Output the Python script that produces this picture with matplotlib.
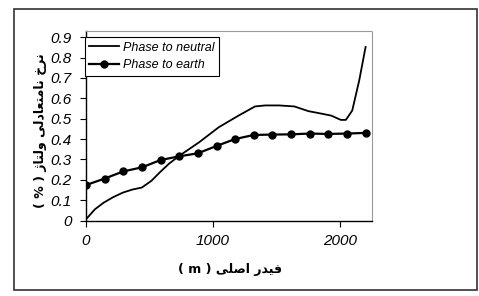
import matplotlib
matplotlib.use('Agg')
import matplotlib.pyplot as plt
from matplotlib.patches import Rectangle

# data
earth_x = [0, 147, 293, 440, 587, 733, 880, 1027, 1173, 1320, 1467, 1613, 1760, 1907, 2053, 2200]
earth_y = [0.174, 0.206, 0.241, 0.261, 0.297, 0.315, 0.330, 0.366, 0.400, 0.420,
           0.422, 0.423, 0.427, 0.425, 0.427, 0.430]

neutral_x = [0, 70, 140, 215, 290, 365, 440, 515, 580, 655, 735, 890, 1045, 1200, 1330,
             1410, 1520, 1640, 1750, 1850, 1930, 2005, 2045, 2095, 2150, 2200]
neutral_y = [0.006, 0.055, 0.088, 0.115, 0.137, 0.152, 0.162, 0.195, 0.236, 0.280, 0.318,
             0.384, 0.458, 0.515, 0.560, 0.565, 0.565, 0.560, 0.537, 0.525, 0.515,
             0.494, 0.494, 0.540, 0.688, 0.852]

y_ticks = [0, 0.1, 0.2, 0.3, 0.4, 0.5, 0.6, 0.7, 0.8, 0.9]
x_ticks = [0, 1000, 2000]
ytick_labels = ['0', '0.1', '0.2', '0.3', '0.4', '0.5', '0.6', '0.7', '0.8', '0.9']

ylabel_fa = 'نرخ نامتعادلی ولتاژ'
xlabel_fa = 'فیدر اصلی'

# minimal Persian shaping (matplotlib has no text shaping for Arabic script)
FORMS = {
    'ا': ('\uFE8D', '\uFE8E', None, None),
    'د': ('\uFEA9', '\uFEAA', None, None),
    'ر': ('\uFEAD', '\uFEAE', None, None),
    'ژ': ('\u0698', '\u0698', None, None),
    'و': ('\uFEED', '\uFEEE', None, None),
    'ت': ('\uFE95', '\uFE96', '\uFE97', '\uFE98'),
    'خ': ('\uFEA5', '\uFEA6', '\uFEA7', '\uFEA8'),
    'ص': ('\uFEB9', '\uFEBA', '\uFEBB', '\uFEBC'),
    'ع': ('\uFEC9', '\uFECA', '\uFECB', '\uFECC'),
    'ف': ('\uFED1', '\uFED2', '\uFED3', '\uFED4'),
    'ل': ('\uFEDD', '\uFEDE', '\uFEDF', '\uFEE0'),
    'م': ('\uFEE1', '\uFEE2', '\uFEE3', '\uFEE4'),
    'ن': ('\uFEE5', '\uFEE6', '\uFEE7', '\uFEE8'),
    'ه': ('\uFEE9', '\uFEEA', '\uFEEB', '\uFEEC'),
    'ی': ('\uFEEF', '\uFEF0', '\uFEF3', '\uFEF4'),
}


def shape(text):
    out = []
    for i, c in enumerate(text):
        if c not in FORMS:
            out.append(c)
            continue
        prev = text[i - 1] if i > 0 else ''
        nxt = text[i + 1] if i + 1 < len(text) else ''
        join_prev = prev in FORMS and FORMS[prev][2] is not None
        join_next = nxt in FORMS and FORMS[c][2] is not None
        if join_prev and join_next:
            out.append(FORMS[c][3])
        elif join_prev:
            out.append(FORMS[c][1])
        elif join_next:
            out.append(FORMS[c][2])
        else:
            out.append(FORMS[c][0])
    return ''.join(out)[::-1]


fig = plt.figure(figsize=(4.79, 2.96), dpi=100)
ax = fig.add_axes([0.1795, 0.255, 0.597, 0.64])

ax.plot(neutral_x, neutral_y, color='black', linewidth=1.3, label='Phase to neutral')
ax.plot(earth_x, earth_y, color='black', linewidth=1.6, marker='o', markersize=5,
        label='Phase to earth')

ax.set_xlim(0, 2250)
ax.set_ylim(0, 0.93)
ax.set_xticks(x_ticks)
ax.set_yticks(y_ticks)
ax.set_yticklabels(ytick_labels)
ax.tick_params(direction='out', length=4, width=0.8, labelsize=11)
ax.tick_params(axis='y', pad=6)
ax.tick_params(axis='x', pad=6)
for lab in ax.get_xticklabels() + ax.get_yticklabels():
    lab.set_fontstyle('italic')
    lab.set_fontfamily('Liberation Sans')

for side in ['top', 'right']:
    ax.spines[side].set_color('#999999')
    ax.spines[side].set_linestyle((0, (2, 1)))
    ax.spines[side].set_linewidth(0.8)
for side in ['left', 'bottom']:
    ax.spines[side].set_linewidth(1.0)

leg = ax.legend(loc='upper left', bbox_to_anchor=(-0.005, 0.968), borderaxespad=0,
                fancybox=False, framealpha=1, edgecolor='black', handlelength=2.4,
                prop={'family': 'Liberation Sans', 'style': 'italic', 'size': 9},
                borderpad=0.35, labelspacing=0.45, handletextpad=0.3)
leg.get_frame().set_linewidth(0.8)

fig.text(0.084, 0.56, '( % ) ' + shape(ylabel_fa), rotation=90, ha='center', va='center',
         fontsize=9, fontweight='bold', family='DejaVu Sans')
fig.text(0.48, 0.088, '( m ) ' + shape(xlabel_fa), ha='center', va='center',
         fontsize=9, fontweight='bold', family='DejaVu Sans')

fig.add_artist(Rectangle((0.029, 0.02), 0.967, 0.95, transform=fig.transFigure,
                         fill=False, edgecolor='#333333', linewidth=1.2))

fig.savefig('out.png', dpi=100)
